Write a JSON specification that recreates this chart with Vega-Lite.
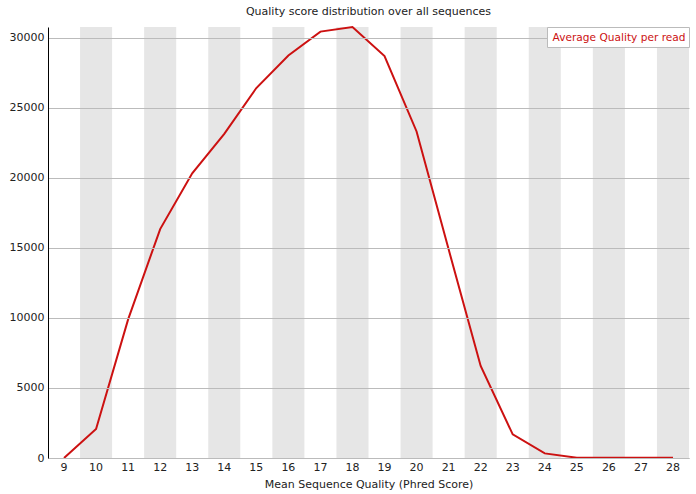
{
  "$schema": "https://vega.github.io/schema/vega-lite/v6.json",
  "autosize": {"type": "none"},
  "padding": {"left": 48, "top": 27, "right": 7, "bottom": 36},
  "width": 641,
  "height": 431,
  "background": "white",
  "config": {
    "font": "DejaVu Sans",
    "view": {"stroke": null},
    "axis": {"labelFont": "DejaVu Sans", "titleFont": "DejaVu Sans", "labelColor": "#222", "titleColor": "#222", "labelFontSize": 11, "titleFontSize": 11, "titleFontWeight": "normal"}
  },
  "title": {"text": "Quality score distribution over all sequences", "fontSize": 11, "fontWeight": "normal", "font": "DejaVu Sans", "color": "#222", "anchor": "middle", "offset": 6},
  "data": {"values": [
    {"q": 9, "count": 0},
    {"q": 10, "count": 2070},
    {"q": 11, "count": 9900},
    {"q": 12, "count": 16350},
    {"q": 13, "count": 20330},
    {"q": 14, "count": 23150},
    {"q": 15, "count": 26420},
    {"q": 16, "count": 28750},
    {"q": 17, "count": 30450},
    {"q": 18, "count": 30780},
    {"q": 19, "count": 28700},
    {"q": 20, "count": 23320},
    {"q": 21, "count": 14900},
    {"q": 22, "count": 6576},
    {"q": 23, "count": 1690},
    {"q": 24, "count": 330},
    {"q": 25, "count": 20},
    {"q": 26, "count": 10},
    {"q": 27, "count": 10},
    {"q": 28, "count": 10}
  ]},
  "encoding": {
    "x": {"field": "q", "type": "ordinal", "sort": "ascending",
      "scale": {"type": "band", "paddingInner": 0, "paddingOuter": 0},
      "axis": {"title": "Mean Sequence Quality (Phred Score)", "labelAngle": 0, "ticks": false, "labelPadding": 3, "domainColor": "#bbb", "titlePadding": 6, "grid": false}}
  },
  "layer": [
    {
      "transform": [{"filter": "datum.q % 2 == 0"}],
      "mark": {"type": "rect", "color": "#e6e6e6"},
      "encoding": {}
    },
    {
      "mark": {"type": "line", "color": "#d81b1b", "strokeWidth": 2},
      "encoding": {
        "y": {"field": "count", "type": "quantitative",
          "scale": {"domain": [0, 30780], "nice": false},
          "axis": {"title": null, "values": [0, 5000, 10000, 15000, 20000, 25000, 30000], "format": "d", "ticks": false, "labelPadding": 4, "domainColor": "#000", "gridColor": "#bbb", "zindex": 1}},
        "color": {"datum": "Average Quality per read", "type": "nominal",
          "scale": {"range": ["#cc1111"]},
          "legend": {"title": " ", "titleFontSize": 3, "titlePadding": 0, "orient": "top-right", "offset": 0, "zindex": 3, "symbolSize": 0, "symbolStrokeWidth": 0, "symbolOpacity": 0, "labelOffset": -8, "labelColor": "#cc1111", "labelFontSize": 10.6, "labelFont": "DejaVu Sans", "fillColor": "white", "strokeColor": "#bbb", "padding": 3, "labelLimit": 300}}
      }
    }
  ]
}
